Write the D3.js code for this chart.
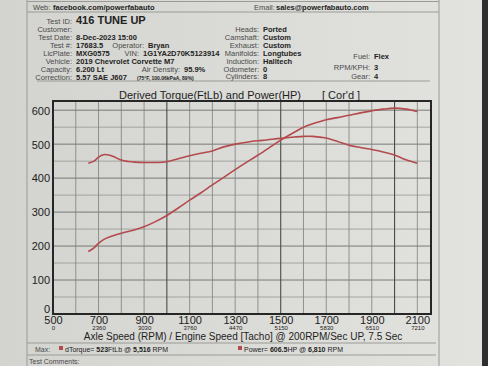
<!DOCTYPE html>
<html>
<head>
<meta charset="utf-8">
<script src="https://cdn.jsdelivr.net/npm/d3@7"></script>
<style>
  body { margin: 0; background: #2e2e2e; }
  svg { display: block; font-family: "Liberation Sans", Arial, sans-serif; }
</style>
</head>
<body>
<svg id="dyno" width="488" height="366"></svg>
<script>
// data (axle rpm)
var rpm    = [655, 680, 700, 722, 745, 770, 800, 830, 860, 900, 950, 1000, 1050, 1100, 1150, 1200, 1250, 1300, 1370, 1420, 1500, 1560, 1600, 1640, 1700, 1750, 1800, 1850, 1900, 1950, 2000, 2050, 2100];
var torque = [444, 450, 462, 469, 468, 462, 453, 449, 447, 446, 446, 448, 457, 466, 473, 480, 492, 500, 508, 511, 517, 521, 523, 523, 518, 508, 497, 490, 484, 477, 468, 454, 444];
var power  = [184, 195, 208, 219, 226, 232, 238, 243, 248, 257, 272, 290, 312, 335, 357, 380, 402, 425, 455, 476, 512, 535, 550, 560, 572, 578, 585, 592, 598, 603, 606, 603, 596];

var axleTicks   = [500, 700, 900, 1100, 1300, 1500, 1700, 1900, 2100];
var engineTicks = ["0", "2360", "3030", "3760", "4470", "5150", "5830", "6510", "7210"];
var yTicks      = [0, 100, 200, 300, 400, 500, 600];

var svg = d3.select("#dyno");

// paper
var defs = svg.append("defs");
var grad = defs.append("linearGradient").attr("id", "paper").attr("x1", 0).attr("x2", 1).attr("y1", 0).attr("y2", 0);
grad.append("stop").attr("offset", "0%").attr("stop-color", "#d3d3cf");
grad.append("stop").attr("offset", "60%").attr("stop-color", "#dcdcd8");
grad.append("stop").attr("offset", "100%").attr("stop-color", "#e2e2df");
svg.append("rect").attr("width", 482).attr("height", 366).attr("fill", "url(#paper)");
svg.append("rect").attr("x", 482).attr("width", 6).attr("height", 366).attr("fill", "#2e2e2e");

// sheet box lines
var boxColor = "#9a9a98";
svg.append("line").attr("x1", 27).attr("x2", 27).attr("y1", 0).attr("y2", 366).attr("stroke", boxColor);
svg.append("line").attr("x1", 439).attr("x2", 439).attr("y1", 0).attr("y2", 366).attr("stroke", boxColor);
svg.append("line").attr("x1", 27).attr("x2", 439).attr("y1", 1.5).attr("y2", 1.5).attr("stroke", boxColor);
svg.append("line").attr("x1", 27).attr("x2", 439).attr("y1", 12).attr("y2", 12).attr("stroke", boxColor);
svg.append("line").attr("x1", 37).attr("x2", 430).attr("y1", 81).attr("y2", 81).attr("stroke", boxColor);
svg.append("line").attr("x1", 27).attr("x2", 436).attr("y1", 343).attr("y2", 343).attr("stroke", boxColor);
svg.append("line").attr("x1", 27).attr("x2", 436).attr("y1", 355).attr("y2", 355).attr("stroke", boxColor);

// header text
var head = svg.append("g").attr("font-size", "7.5px").attr("fill", "#222");

function field(x, y, label, value, bold) {
  head.append("text").attr("x", x - 2).attr("y", y).attr("text-anchor", "end")
      .attr("fill", "#4a4a4a").text(label);
  head.append("text").attr("x", x + 2).attr("y", y)
      .attr("font-weight", "bold").attr("font-size", bold || null).text(value);
}

head.append("text").attr("x", 33).attr("y", 9.5).attr("fill", "#4a4a4a").text("Web:");
head.append("text").attr("x", 53).attr("y", 9.5).attr("font-weight", "bold").text("facebook.com/powerfabauto");
head.append("text").attr("x", 254).attr("y", 9.5).attr("fill", "#4a4a4a").text("Email:");
head.append("text").attr("x", 276).attr("y", 9.5).attr("font-weight", "bold").text("sales@powerfabauto.com");

field(74, 24, "Test ID:", "416 TUNE UP", "11px");
field(74, 32, "Customer:", "");
field(74, 40, "Test Date:", "8-Dec-2023 15:00");
field(74, 47.5, "Test #:", "17683.5");
field(74, 55.5, "LicPlate:", "MXG0575");
field(74, 63.5, "Vehicle:", "2019 Chevrolet Corvette M7");
field(74, 72, "Capacity:", "6.200 Lt");
field(74, 80, "Correction:", "5.57 SAE J607");

field(146, 47.5, "Operator:", "Bryan");
field(141, 55.5, "VIN:", "1G1YA2D70K5123914");
field(182, 72, "Air Density:", "95.9%");
head.append("text").attr("x", 137).attr("y", 80).attr("font-size", "5px").attr("font-weight", "bold")
    .text("(75°F, 100.06kPaA, 89%)");

field(261, 31.5, "Heads:", "Ported");
field(261, 39.5, "Camshaft:", "Custom");
field(261, 47.5, "Exhaust:", "Custom");
field(261, 55.5, "Manifolds:", "Longtubes");
field(261, 63.5, "Induction:", "Halltech");
field(261, 71.5, "Odometer:", "0");
field(261, 79, "Cylinders:", "8");

field(372, 58.5, "Fuel:", "Flex");
field(372, 70, "RPM/KPH:", "3");
field(372, 78.5, "Gear:", "4");

// chart
var margin = {top: 101, left: 53},
    width = 378,
    height = 213,
    g = svg.append("g").attr("transform", "translate(" + margin.left + "," + margin.top + ")");

var x = d3.scaleLinear().domain([500, 2160]).range([0, width]);
var y = d3.scaleLinear().domain([0, 627]).range([height, 0]);

// grid
g.append("g").selectAll("line")
    .data(d3.range(50, 627, 50))
  .enter().append("line")
    .attr("x1", 0).attr("x2", width)
    .attr("y1", function(d) { return y(d); }).attr("y2", function(d) { return y(d); })
    .attr("stroke", function(d) { return d % 100 === 0 ? "#6e6e6c" : "#8c8c8a"; })
    .attr("stroke-width", function(d) { return d % 100 === 0 ? 0.9 : 0.7; });

g.append("g").selectAll("line")
    .data(d3.range(600, 2160, 100))
  .enter().append("line")
    .attr("y1", 0).attr("y2", height)
    .attr("x1", function(d) { return x(d); }).attr("x2", function(d) { return x(d); })
    .attr("stroke", function(d) { return d % 500 === 0 ? "#4a4a48" : "#7e7e7c"; })
    .attr("stroke-width", function(d) { return d % 500 === 0 ? 1.1 : 0.8; });

// curves
var line = d3.line()
    .x(function(d) { return x(d[0]); })
    .y(function(d) { return y(d[1]); })
    .curve(d3.curveCatmullRom);

g.append("path")
    .datum(d3.zip(rpm, torque))
    .attr("fill", "none")
    .attr("stroke", "#b34a4d")
    .attr("stroke-width", 1.6)
    .attr("stroke-linejoin", "round")
    .attr("d", line);

g.append("path")
    .datum(d3.zip(rpm, power))
    .attr("fill", "none")
    .attr("stroke", "#b34a4d")
    .attr("stroke-width", 1.6)
    .attr("stroke-linejoin", "round")
    .attr("d", line);

// frame
g.append("rect")
    .attr("width", width).attr("height", height)
    .attr("fill", "none").attr("stroke", "#262626").attr("stroke-width", 2);

// axes
var yAxis = d3.axisLeft(y).tickValues(yTicks).tickSize(0).tickPadding(3);
g.append("g").call(yAxis)
    .call(function(a) {
      a.select(".domain").remove();
      a.selectAll(".tick text").attr("font-size", "11px").attr("fill", "#222")
          .attr("font-family", "Liberation Sans, Arial, sans-serif")
          .attr("dy", function(d) { return d === 0 ? "-0.15em" : "0.35em"; });
    });

var xAxis = d3.axisBottom(x).tickValues(axleTicks).tickSize(0).tickPadding(2).tickFormat(d3.format("d"));
g.append("g")
    .attr("transform", "translate(0," + height + ")")
    .call(xAxis)
    .call(function(a) {
      a.select(".domain").remove();
      a.selectAll(".tick text").attr("font-size", "11px").attr("fill", "#222")
          .attr("font-family", "Liberation Sans, Arial, sans-serif");
      a.selectAll(".tick").append("text")
          .attr("y", 15.5).attr("fill", "#222").attr("font-size", "6px")
          .attr("font-family", "Liberation Sans, Arial, sans-serif")
          .text(function(d, i) { return engineTicks[i]; });
    });

// titles
svg.append("text").attr("x", 119).attr("y", 99).attr("font-size", "11px").attr("fill", "#1e1e1e")
    .text("Derived Torque(FtLb) and Power(HP)");
svg.append("text").attr("x", 322).attr("y", 99).attr("font-size", "11px").attr("fill", "#1e1e1e")
    .text("[ Cor'd ]");
svg.append("text").attr("x", 243).attr("y", 340).attr("text-anchor", "middle")
    .attr("font-size", "10px").attr("fill", "#1e1e1e")
    .text("Axle Speed (RPM) / Engine Speed [Tacho] @ 200RPM/Sec UP, 7.5 Sec");

// max row
var foot = svg.append("g").attr("font-size", "7px").attr("fill", "#222");
foot.append("text").attr("x", 35).attr("y", 351.5).attr("fill", "#4a4a4a").text("Max:");
foot.append("rect").attr("x", 59).attr("y", 346).attr("width", 4).attr("height", 4).attr("fill", "#b34a4d");
var t1 = foot.append("text").attr("x", 65).attr("y", 351.5);
t1.append("tspan").text("dTorque= ");
t1.append("tspan").attr("font-weight", "bold").text("523");
t1.append("tspan").text("FtLb @ ");
t1.append("tspan").attr("font-weight", "bold").text("5,516");
t1.append("tspan").text(" RPM");
foot.append("rect").attr("x", 238).attr("y", 346).attr("width", 4).attr("height", 4).attr("fill", "#b34a4d");
var t2 = foot.append("text").attr("x", 244).attr("y", 351.5);
t2.append("tspan").text("Power= ");
t2.append("tspan").attr("font-weight", "bold").text("606.5");
t2.append("tspan").text("HP @ ");
t2.append("tspan").attr("font-weight", "bold").text("6,810");
t2.append("tspan").text(" RPM");

foot.append("text").attr("x", 29).attr("y", 364).attr("fill", "#4a4a4a").text("Test Comments:");
</script>
</body>
</html>
